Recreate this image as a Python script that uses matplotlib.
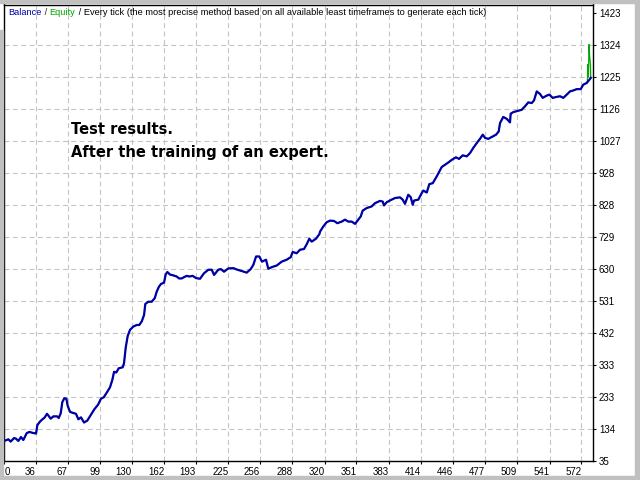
import matplotlib
matplotlib.use("Agg")
import matplotlib.pyplot as plt
from matplotlib.offsetbox import TextArea, HPacker, AnchoredOffsetbox
from matplotlib.patches import Rectangle

# balance curve (deal number, balance)
deals = [5.5, 8.8, 11.1, 14.4, 16.3, 18.6, 21.2, 23.5, 26.8, 29.4, 32.7, 36, 37.3, 39.9,
         42.6, 44.1, 46.8, 50.4, 53, 56.9, 58.3, 60.3, 61.8, 63.8, 65.8, 67.1, 69.4, 72.1,
         75.3, 77.6, 80.2, 83.2, 86.4, 89.8, 93.3, 96.9, 99.9, 102.5, 105.8, 108.7, 111,
         112.7, 114.9, 117.3, 121.2, 122.5, 124.2, 126.1, 128.4, 131.6, 135, 137.5, 139.9,
         142.2, 143.4, 146.4, 149.7, 152.7, 154.6, 156.9, 158.9, 161.8, 163.5, 165.1, 167.7,
         170.4, 174.3, 176.6, 179.2, 181.5, 184.1, 186.7, 190, 193.3, 197.2, 201.1, 205.4,
         208.7, 211, 215.2, 217.6, 220.8, 225, 229.9, 233.9, 238.2, 243.1, 247, 249.6, 252.3,
         255.5, 258.1, 262.1, 264.3, 267.7, 272.6, 277.5, 282.4, 286.4, 288.3, 292.2, 295.5,
         299.4, 302.1, 304.6, 307, 311.2, 314.5, 315.2, 318.4, 321.7, 325, 328.9, 332.2,
         336.5, 339.7, 343, 346.3, 349.6, 352.8, 355.2, 357.1, 361.1, 366, 369.2, 374.1,
         376.8, 378.1, 380.7, 385.6, 388.9, 393.8, 396.4, 398.7, 401.9, 404.3, 406.3, 407.6,
         411.8, 415.1, 416.7, 420.1, 422.6, 426, 429.9, 434.8, 438, 441.3, 444.6, 448.8,
         451.8, 455.4, 459.4, 462.6, 465.8, 469.2, 472.4, 475.1, 477.4, 480.6, 484, 488.2,
         490.8, 492.1, 495.3, 498.7, 501.9, 502.6, 505.2, 510.1, 513.4, 516.7, 519.9, 523.3,
         525.5, 528.2, 531.4, 534.1, 538, 540.6, 543.9, 547.8, 551.1, 554.3, 557.7, 560.9,
         564.2, 567.5, 571.4, 574, 577.3, 579.9, 581.3]
balance = [99, 103, 96, 107, 105, 98, 110, 101, 122, 126, 123, 121, 147, 158,
           166, 169, 182, 167, 174, 174, 169, 184, 218, 230, 229, 207, 188, 185,
           182, 165, 171, 155, 161, 178, 196, 210, 229, 233, 249, 264, 287,
           312, 310, 323, 326, 339, 388, 423, 442, 452, 457, 457, 468,
           488, 522, 529, 529, 540, 560, 576, 584, 588, 614, 621, 613,
           611, 607, 601, 601, 605, 609, 607, 609, 602, 600, 617, 628,
           628, 612, 628, 630, 622, 632, 633, 628, 624, 619, 630, 643, 669,
           669, 653, 659, 631, 636, 641, 653, 659, 667, 683, 679, 690,
           692, 707, 724, 715, 724, 738, 746, 762, 775, 780, 779, 772,
           777, 783, 777, 777, 770, 783, 793, 811, 819, 824, 834, 841,
           839, 827, 837, 845, 850, 852, 845, 832, 860, 853, 829, 842,
           845, 865, 873, 867, 893, 896, 917, 946, 953, 960, 968, 976,
           971, 982, 979, 989, 1005, 1020, 1033, 1046, 1036, 1033, 1039, 1046,
           1056, 1082, 1101, 1095, 1084, 1111, 1116, 1120, 1123, 1134, 1146, 1144,
           1152, 1180, 1172, 1160, 1167, 1170, 1160, 1163, 1165, 1160, 1170, 1180,
           1183, 1187, 1187, 1201, 1206, 1216, 1222]

# equity follows balance except the spike at the very end
equity_tail_deals = [578.0, 578.4, 579.0, 579.6, 580.2, 581.0, 581.3]
equity_tail = [1212, 1263, 1225, 1325, 1290, 1262, 1222]

x_labels = [0, 36, 67, 99, 130, 162, 193, 225, 256, 288, 320, 351, 383, 414,
            446, 477, 509, 541, 572]
y_labels = [35, 134, 233, 333, 432, 531, 630, 729, 828, 928, 1027, 1126, 1225,
            1324, 1423]

blue = "#0000a8"
green = "#00a800"

fig = plt.figure(figsize=(6.4, 4.8), dpi=100, facecolor="white")
ax = fig.add_axes([4.3 / 640, 1 - 461.3 / 480, 589 / 640, 456.8 / 480])

x_min, x_max = 4.8, 583.8
eq_x = deals[:-2] + equity_tail_deals
eq_y = balance[:-2] + equity_tail
ax.plot(eq_x, eq_y, color=green, lw=0.9)
ax.plot(deals, balance, color=blue, lw=1.6)

ax.set_xlim(x_min, x_max)
ax.set_ylim(35, 1449)

ax.set_xticks([x_min] + x_labels[1:])
ax.set_xticklabels([str(v) for v in x_labels])
ax.set_yticks(y_labels)
ax.set_yticklabels([str(v) for v in y_labels])
ax.yaxis.tick_right()

for lab in ax.get_xticklabels():
    lab.set_horizontalalignment("right")
ax.get_xticklabels()[0].set_horizontalalignment("left")

ax.tick_params(axis="both", direction="out", length=2.5, width=0.8,
               labelsize=7, colors="black", pad=1.5)
for lab in ax.get_xticklabels() + ax.get_yticklabels():
    lab.set_fontfamily("Liberation Sans")

ax.grid(True, color="#c4c4c4", lw=0.8, linestyle=(0, (4.5, 3)))
ax.get_ygridlines()[-1].set_visible(False)
ax.get_ygridlines()[0].set_visible(False)
ax.get_xgridlines()[0].set_visible(False)
ax.set_axisbelow(True)

for s in ax.spines.values():
    s.set_color("black")
    s.set_linewidth(1.0)

# legend line at the top
fp = dict(fontsize=6.7, family="Liberation Sans")
parts = [TextArea("Balance", textprops=dict(color=blue, **fp)),
         TextArea(" / ", textprops=dict(color="#202020", **fp)),
         TextArea("Equity", textprops=dict(color=green, **fp)),
         TextArea(" / Every tick (the most precise method based on all available least "
                  "timeframes to generate each tick)", textprops=dict(color="black", **fp))]
box = HPacker(children=parts, align="baseline", pad=0, sep=0)
leg = AnchoredOffsetbox(loc="upper left", child=box, pad=0, borderpad=0, frameon=False,
                        bbox_to_anchor=(8.5 / 640, 1 - 8 / 480),
                        bbox_transform=fig.transFigure)
ax.add_artist(leg)

fig.text(71 / 640, 1 - 130 / 480, "Test results.", fontsize=10.5,
         fontweight="bold", color="black", va="center", ha="left")
fig.text(71 / 640, 1 - 152 / 480, "After the training of an expert.", fontsize=10.5,
         fontweight="bold", color="black", va="center", ha="left")

# grey window frame
grey = "#c0c0c0"
fig.patches.append(Rectangle((0, 0), 1, 4 / 480, transform=fig.transFigure,
                             color=grey, zorder=0))
fig.patches.append(Rectangle((0, 477 / 480), 1, 3 / 480, transform=fig.transFigure,
                             color=grey, zorder=0))
fig.patches.append(Rectangle((635 / 640, 0), 5 / 640, 1, transform=fig.transFigure,
                             color=grey, zorder=0))
fig.patches.append(Rectangle((0, 0), 2.5 / 640, 1 - 30 / 480, transform=fig.transFigure,
                             color=grey, zorder=0))

fig.savefig("out.png", dpi=100, facecolor="white")
